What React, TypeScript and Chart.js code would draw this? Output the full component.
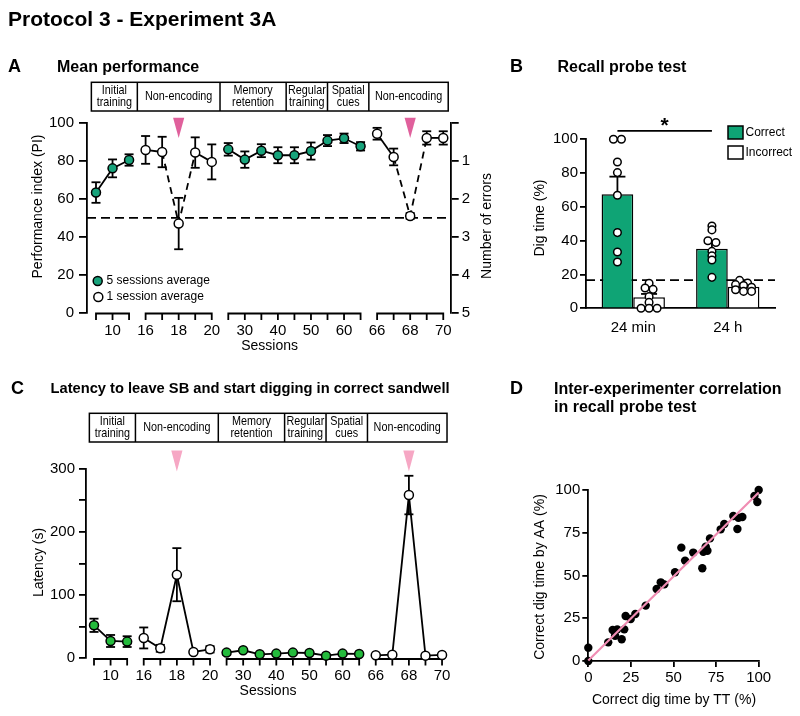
import React, { useEffect, useRef } from 'react';
import { Chart, registerables } from 'chart.js';

Chart.register(...registerables);

const FONT = "'Liberation Sans', Arial, Helvetica, sans-serif";
Chart.defaults.font.family = FONT;
Chart.defaults.color = '#000';

// ---------------- data ----------------
const sessions = [9, 10, 11, 16, 17, 18, 19, 20, 25, 30, 35, 40, 45, 50, 55, 60, 65, 66, 67, 68, 69, 70];
const sessionTickLabels = [10, 16, 18, 20, 30, 40, 50, 60, 66, 68, 70];
const sessionGroups = [
  [9, 10, 11],
  [16, 17, 18, 19, 20],
  [25, 30, 35, 40, 45, 50, 55, 60, 65],
  [66, 67, 68, 69, 70],
];
const groupIsFiveSessionAverage = [true, false, true, false];
const noEncodingSessions = [18, 68];
const phaseNames = [['Initial', 'training'], ['Non-encoding'], ['Memory', 'retention'], ['Regular', 'training'], ['Spatial', 'cues'], ['Non-encoding']];
const phaseBounds = [-0.28, 2.5, 7.5, 11.5, 14, 16.5, 21.3];
const legendLabels = ['5 sessions average', '1 session average'];

const performanceMean = [63.3, 76.0, 80.4, 85.7, 84.6, 47.0, 84.3, 79.4, 86.0, 80.6, 85.3, 82.9, 82.9, 85.1, 90.6, 91.8, 87.6, 94.2, 82.0, 51.0, 92.0, 92.0];
const performanceSem = [5.4, 4.7, 3.0, 7.3, 8.0, 13.5, 8.0, 9.2, 3.3, 4.3, 3.4, 4.2, 4.2, 4.5, 2.9, 2.5, 2.2, 3.1, 4.4, 1.5, 3.5, 3.5];
const performanceChance = 50;

const latencyMean = [52.2, 27.4, 26.4, 32.2, 15.8, 132.3, 10.0, 14.2, 9.0, 12.7, 6.3, 7.4, 9.0, 8.4, 4.2, 7.4, 6.9, 4.7, 5.8, 258.3, 4.2, 5.3];
const latencySem = [10.5, 9.5, 8.5, 16.6, 5.5, 42.0, 2.0, 5.0, 3.0, 2.0, 1.5, 1.5, 1.5, 1.5, 1.0, 1.5, 1.5, 1.0, 1.0, 30.5, 1.0, 1.0];

const probeDelays = ['24 min', '24 h'];
const probeSeries = ['Correct', 'Incorrect'];
const correctMean = [67.5, 35.3];
const correctSem = [10.4, 3.6];
const incorrectMean = [6.5, 12.8];
const incorrectSem = [2.0, 1.0];
const correctIndividual = [
  [100, 100, 86.6, 80.3, 66.9, 44.8, 33.3, 27.4],
  [48.7, 46.4, 40.0, 38.9, 33.7, 31.0, 28.6, 18.3],
];
const incorrectIndividual = [
  [14.8, 12.0, 11.2, 6.9, 3.5, 0, 0, 0],
  [16.5, 15.0, 14.0, 13.5, 12.5, 11.0, 10.0, 10.0],
];
const digChance = 16.7;
const significanceLevel = 105;

const digTimeTT = [0, 0, 11.7, 14.3, 15.7, 17.0, 19.6, 21.1, 21.9, 24.9, 27.6, 33.7, 40.1, 42.5, 44.6, 50.9, 54.6, 56.8, 61.6, 66.9, 67.5, 68.9, 69.9, 71.4, 77.7, 79.8, 85.1, 87.5, 88.1, 90.4, 97.5, 99.2, 100];
const digTimeAA = [0, 7.8, 10.9, 18.1, 14.8, 18.5, 12.7, 18.5, 26.3, 24.6, 27.5, 32.4, 42.1, 46.0, 44.8, 51.9, 66.3, 58.7, 63.4, 54.2, 63.9, 66.9, 64.5, 71.7, 77.0, 80.1, 84.8, 77.2, 83.8, 84.2, 96.5, 93.0, 100];
const fitTT = [0, 100];
const fitAA = [0.3, 98.5];

// ---------------- layout / style ----------------
const W = 800;
const H = 716;
const GREEN_A = '#17a37b';
const GREEN_B = '#0fa475';
const GREEN_C = '#24bb3c';
const PINK_A = '#e0609c';
const PINK_C = '#f6a7c4';
const PINK_D = '#f08db3';
const LW = 1.8;

const GEO_A = { left: 87, right: 450.7, top: 122.7, bottom: 313, xMin: -0.544, xMax: 21.45 };
const DEC_A = { boxTop: 82.3, boxBottom: 111, triTop: 117.7, triBottom: 138, axisY: 313.5, tickLabelY: 331, titleY: 346, yTitleX: 38.5, yTitleY: 206.5, y2TitleX: 487, y2TitleY: 226 };
const GEO_C = { left: 86, right: 450, top: 468.7, bottom: 658.3, xMin: -0.483, xMax: 21.48 };
const DEC_C = { boxTop: 413.3, boxBottom: 442, triTop: 450.5, triBottom: 471.5, axisY: 659, tickLabelY: 675.5, titleY: 690.7, yTitleX: 39.3, yTitleY: 562.5 };
const GEO_B = { left: 586, right: 775, top: 139.3, bottom: 308.3 };
const GEO_D = { left: 588.3, right: 758.7, top: 490, bottom: 661 };

function txt(ctx: any, s: string, x: number, y: number, size: number, o: any = {}) {
  ctx.save();
  ctx.font = `${o.bold ? 'bold ' : ''}${size}px ${FONT}`;
  ctx.fillStyle = o.color || '#000';
  ctx.textAlign = o.align || 'left';
  ctx.textBaseline = o.baseline || 'middle';
  ctx.translate(x, y);
  if (o.rot) ctx.rotate(o.rot);
  if (o.sx) ctx.scale(o.sx, 1);
  ctx.fillText(s, 0, 0);
  ctx.restore();
}

function seg(ctx: any, x0: number, y0: number, x1: number, y1: number) {
  ctx.beginPath();
  ctx.moveTo(x0, y0);
  ctx.lineTo(x1, y1);
  ctx.stroke();
}

function drawErrorBars(ctx: any, xs: any, ys: any, means: number[], sems: number[], capHalf: number) {
  ctx.save();
  ctx.strokeStyle = '#000';
  ctx.lineWidth = LW;
  means.forEach((m, i) => {
    const px = xs.getPixelForValue(i);
    const yTop = ys.getPixelForValue(m + sems[i]);
    const yBot = ys.getPixelForValue(Math.max(m - sems[i], 0));
    seg(ctx, px, yTop, px, yBot);
    seg(ctx, px - capHalf, yTop, px + capHalf, yTop);
    seg(ctx, px - capHalf, yBot, px + capHalf, yBot);
  });
  ctx.restore();
}

function drawSessionAxis(chart: any, d: any) {
  const { ctx } = chart;
  const xs = chart.scales.x;
  ctx.save();
  ctx.strokeStyle = '#000';
  ctx.lineWidth = LW;
  ctx.lineJoin = 'miter';
  const tick = 6.5;
  sessionGroups.forEach((g) => {
    const x0 = xs.getPixelForValue(sessions.indexOf(g[0]));
    const x1 = xs.getPixelForValue(sessions.indexOf(g[g.length - 1]));
    ctx.beginPath();
    ctx.moveTo(x0, d.axisY + tick);
    ctx.lineTo(x0, d.axisY);
    ctx.lineTo(x1, d.axisY);
    ctx.lineTo(x1, d.axisY + tick);
    ctx.stroke();
    g.slice(1, -1).forEach((s) => {
      const px = xs.getPixelForValue(sessions.indexOf(s));
      seg(ctx, px, d.axisY, px, d.axisY + tick);
    });
  });
  ctx.restore();
  sessionTickLabels.forEach((s) => {
    txt(ctx, String(s), xs.getPixelForValue(sessions.indexOf(s)), d.tickLabelY, 15, { align: 'center' });
  });
  const mid = (xs.getPixelForValue(0) + xs.getPixelForValue(sessions.length - 1)) / 2;
  txt(ctx, 'Sessions', mid, d.titleY, 14, { align: 'center' });
}

function drawPhases(chart: any, d: any) {
  const { ctx } = chart;
  const xs = chart.scales.x;
  const px = phaseBounds.map((v) => xs.getPixelForValue(v));
  ctx.save();
  ctx.strokeStyle = '#000';
  ctx.lineWidth = 1.5;
  ctx.strokeRect(px[0], d.boxTop, px[px.length - 1] - px[0], d.boxBottom - d.boxTop);
  for (let k = 1; k < px.length - 1; k++) seg(ctx, px[k], d.boxTop, px[k], d.boxBottom);
  ctx.restore();
  const cy = (d.boxTop + d.boxBottom) / 2;
  phaseNames.forEach((lines, k) => {
    const cx = (px[k] + px[k + 1]) / 2;
    if (lines.length === 2) {
      txt(ctx, lines[0], cx, cy - 6, 13.5, { align: 'center', sx: 0.8 });
      txt(ctx, lines[1], cx, cy + 6, 13.5, { align: 'center', sx: 0.8 });
    } else {
      txt(ctx, lines[0], cx, cy, 13.5, { align: 'center', sx: 0.8 });
    }
  });
}

function drawTriangles(chart: any, d: any, color: string) {
  const { ctx } = chart;
  const xs = chart.scales.x;
  ctx.save();
  ctx.fillStyle = color;
  noEncodingSessions.forEach((s) => {
    const px = xs.getPixelForValue(sessions.indexOf(s));
    ctx.beginPath();
    ctx.moveTo(px - 5.6, d.triTop);
    ctx.lineTo(px + 5.6, d.triTop);
    ctx.lineTo(px, d.triBottom);
    ctx.closePath();
    ctx.fill();
  });
  ctx.restore();
}

function circle(ctx: any, x: number, y: number, r: number, fill: string) {
  ctx.save();
  ctx.beginPath();
  ctx.arc(x, y, r, 0, Math.PI * 2);
  ctx.fillStyle = fill;
  ctx.fill();
  ctx.lineWidth = 1.5;
  ctx.strokeStyle = '#000';
  ctx.stroke();
  ctx.restore();
}

function sessionDatasets(means: number[], green: string, dashed: boolean) {
  return sessionGroups.map((g, gi) => ({
    data: g.map((s) => {
      const i = sessions.indexOf(s);
      return { x: i, y: means[i] };
    }),
    showLine: true,
    borderColor: '#000',
    borderWidth: LW,
    pointRadius: 4.5,
    pointHoverRadius: 4.5,
    pointBorderWidth: 1.5,
    pointBorderColor: '#000',
    pointBackgroundColor: groupIsFiveSessionAverage[gi] ? green : '#fff',
    clip: false,
    segment: {
      borderDash: (c: any) =>
        dashed && (noEncodingSessions.includes(g[c.p0DataIndex]) || noEncodingSessions.includes(g[c.p1DataIndex]))
          ? [7, 5]
          : undefined,
    },
  }));
}

function yAxis(min: number, max: number, step: number, width: number, tickLength: number, padding: number, extra: any = {}) {
  return {
    type: 'linear',
    position: 'left',
    min,
    max,
    afterFit: (s: any) => {
      s.width = width;
    },
    ticks: { stepSize: step, autoSkip: false, font: { family: FONT, size: 15 }, color: '#000', padding, ...(extra.ticks || {}) },
    grid: { display: true, drawOnChartArea: false, drawTicks: true, tickLength, color: '#000', lineWidth: LW },
    border: { display: true, color: '#000', width: LW },
    ...(extra.rest || {}),
  };
}

const baseOptions = {
  responsive: false,
  maintainAspectRatio: false,
  animation: false,
  events: [],
  plugins: { legend: { display: false }, tooltip: { enabled: false }, title: { display: false } },
};

function buildPerformanceChart() {
  const plugin = {
    id: 'perfDecor',
    beforeDatasetsDraw(chart: any) {
      const { ctx, chartArea } = chart;
      const { x, y } = chart.scales;
      ctx.save();
      ctx.setLineDash([9, 5]);
      ctx.lineWidth = LW;
      ctx.strokeStyle = '#000';
      const yy = y.getPixelForValue(performanceChance);
      seg(ctx, chartArea.left, yy, chartArea.right, yy);
      ctx.restore();
      drawSessionAxis(chart, DEC_A);
      drawErrorBars(ctx, x, y, performanceMean, performanceSem, 4.5);
    },
    afterDraw(chart: any) {
      const { ctx } = chart;
      drawPhases(chart, DEC_A);
      drawTriangles(chart, DEC_A, PINK_A);
      circle(ctx, 97.7, 281, 4.5, GREEN_A);
      txt(ctx, legendLabels[0], 106.5, 281, 12);
      circle(ctx, 98.3, 297, 4.5, '#fff');
      txt(ctx, legendLabels[1], 106.5, 297, 12);
      txt(ctx, 'Performance index (PI)', DEC_A.yTitleX, DEC_A.yTitleY, 14, { align: 'center', rot: -Math.PI / 2 });
      txt(ctx, 'Number of errors', DEC_A.y2TitleX, DEC_A.y2TitleY, 14, { align: 'center', rot: -Math.PI / 2 });
    },
  };
  return {
    type: 'scatter',
    data: { datasets: sessionDatasets(performanceMean, GREEN_A, true) },
    options: {
      ...baseOptions,
      layout: { padding: { left: 0, right: W - GEO_A.right - 40, top: GEO_A.top, bottom: H - GEO_A.bottom } },
      scales: {
        x: { type: 'linear', display: false, min: GEO_A.xMin, max: GEO_A.xMax },
        y: yAxis(0, 100, 20, GEO_A.left, 8, 5),
        y2: {
          type: 'linear',
          position: 'right',
          min: 0,
          max: 5,
          reverse: true,
          afterFit: (s: any) => {
            s.width = 40;
          },
          ticks: {
            stepSize: 1,
            autoSkip: false,
            font: { family: FONT, size: 15 },
            color: '#000',
            padding: 3,
            callback: (v: any) => (v === 0 ? '' : String(v)),
          },
          grid: { display: true, drawOnChartArea: false, drawTicks: true, tickLength: 8, color: '#000', lineWidth: LW },
          border: { display: true, color: '#000', width: LW },
        },
      },
    },
    plugins: [plugin],
  };
}

function buildLatencyChart() {
  const plugin = {
    id: 'latDecor',
    beforeDatasetsDraw(chart: any) {
      const { ctx } = chart;
      const { x, y } = chart.scales;
      drawSessionAxis(chart, DEC_C);
      drawErrorBars(ctx, x, y, latencyMean, latencySem, 4.5);
    },
    afterDraw(chart: any) {
      const { ctx } = chart;
      drawPhases(chart, DEC_C);
      drawTriangles(chart, DEC_C, PINK_C);
      txt(ctx, 'Latency (s)', DEC_C.yTitleX, DEC_C.yTitleY, 14, { align: 'center', rot: -Math.PI / 2 });
    },
  };
  return {
    type: 'scatter',
    data: { datasets: sessionDatasets(latencyMean, GREEN_C, false) },
    options: {
      ...baseOptions,
      layout: { padding: { left: 0, right: W - GEO_C.right, top: GEO_C.top, bottom: H - GEO_C.bottom } },
      scales: {
        x: { type: 'linear', display: false, min: GEO_C.xMin, max: GEO_C.xMax },
        y: yAxis(0, 300, 50, GEO_C.left, 7, 4, {
          ticks: { callback: (v: any) => (v % 100 === 0 ? String(v) : '') },
        }),
      },
    },
    plugins: [plugin],
  };
}

function swarm(values: number[], ys: any, threshold: number, step: number) {
  const sorted = values.map((v) => ys.getPixelForValue(v)).sort((a, b) => a - b);
  const out: { py: number; dx: number }[] = [];
  let i = 0;
  while (i < sorted.length) {
    let j = i;
    while (j + 1 < sorted.length && sorted[j + 1] - sorted[i] < threshold) j++;
    const n = j - i + 1;
    for (let k = 0; k < n; k++) out.push({ py: sorted[i + k], dx: (k - (n - 1) / 2) * step });
    i = j + 1;
  }
  return out;
}

function buildProbeChart() {
  const plugin = {
    id: 'probeDecor',
    beforeDatasetsDraw(chart: any) {
      const { ctx, chartArea } = chart;
      const y = chart.scales.y;
      ctx.save();
      ctx.setLineDash([9, 5]);
      ctx.lineWidth = LW;
      ctx.strokeStyle = '#000';
      const yy = y.getPixelForValue(digChance);
      seg(ctx, chartArea.left, yy, chartArea.right, yy);
      ctx.restore();
    },
    afterDatasetsDraw(chart: any) {
      const { ctx } = chart;
      const ys = chart.scales.y;
      const groups: any[] = [
        [correctMean, correctSem, correctIndividual],
        [incorrectMean, incorrectSem, incorrectIndividual],
      ];
      ctx.save();
      ctx.strokeStyle = '#000';
      ctx.lineWidth = LW;
      groups.forEach(([m, s], di) => {
        const meta = chart.getDatasetMeta(di);
        meta.data.forEach((bar: any, j: number) => {
          const yTop = ys.getPixelForValue(m[j] + s[j]);
          const yBar = ys.getPixelForValue(m[j]);
          seg(ctx, bar.x, yBar, bar.x, yTop);
          seg(ctx, bar.x - 8, yTop, bar.x + 8, yTop);
        });
      });
      ctx.restore();
      groups.forEach(([, , pts], di) => {
        const meta = chart.getDatasetMeta(di);
        meta.data.forEach((bar: any, j: number) => {
          swarm(pts[j], ys, 2.6, 8).forEach((p) => circle(ctx, bar.x + p.dx, p.py, 3.8, '#fff'));
        });
      });
    },
    afterDraw(chart: any) {
      const { ctx } = chart;
      const ys = chart.scales.y;
      const m0 = chart.getDatasetMeta(0);
      const x0 = m0.data[0].x;
      const x1 = m0.data[1].x;
      const yS = ys.getPixelForValue(significanceLevel);
      ctx.save();
      ctx.strokeStyle = '#000';
      ctx.lineWidth = LW;
      seg(ctx, x0, yS, x1, yS);
      ctx.restore();
      txt(ctx, '*', (x0 + x1) / 2, yS + 1, 21, { align: 'center', baseline: 'alphabetic', bold: true });
      // legend
      ctx.save();
      ctx.lineWidth = 1.5;
      ctx.strokeStyle = '#000';
      ctx.fillStyle = GREEN_B;
      ctx.fillRect(728, 126, 15, 13);
      ctx.strokeRect(728, 126, 15, 13);
      ctx.fillStyle = '#fff';
      ctx.fillRect(728, 146, 15, 13);
      ctx.strokeRect(728, 146, 15, 13);
      ctx.restore();
      txt(ctx, probeSeries[0], 745.5, 132.6, 12);
      txt(ctx, probeSeries[1], 745.5, 152.4, 12);
      txt(ctx, 'Dig time (%)', 540, 218, 14, { align: 'center', rot: -Math.PI / 2 });
    },
  };
  return {
    type: 'bar',
    data: {
      labels: probeDelays,
      datasets: [
        { label: probeSeries[0], data: correctMean, backgroundColor: GREEN_B, borderColor: '#000', borderWidth: 1.5, categoryPercentage: 0.67, barPercentage: 1 },
        { label: probeSeries[1], data: incorrectMean, backgroundColor: '#fff', borderColor: '#000', borderWidth: 1.5, categoryPercentage: 0.67, barPercentage: 1 },
      ],
    },
    options: {
      ...baseOptions,
      layout: { padding: { left: GEO_B.left - 60, right: W - GEO_B.right, top: GEO_B.top, bottom: H - GEO_B.bottom - 40 } },
      scales: {
        x: {
          afterFit: (s: any) => {
            s.height = 40;
          },
          grid: { display: false },
          border: { display: true, color: '#000', width: LW },
          ticks: { font: { family: FONT, size: 15 }, color: '#000', padding: 3 },
        },
        y: yAxis(0, 100, 20, 60, 6, 2),
      },
    },
    plugins: [plugin],
  };
}

function buildCorrelationChart() {
  const plugin = {
    id: 'corrDecor',
    afterDraw(chart: any) {
      const { ctx } = chart;
      txt(ctx, 'Correct dig time by AA (%)', 540, 577, 14, { align: 'center', rot: -Math.PI / 2 });
      txt(ctx, 'Correct dig time by TT (%)', 674, 700, 14, { align: 'center' });
    },
  };
  return {
    type: 'scatter',
    data: {
      datasets: [
        {
          data: fitTT.map((v, i) => ({ x: v, y: fitAA[i] })),
          showLine: true,
          borderColor: PINK_D,
          borderWidth: 2.2,
          pointRadius: 0,
          clip: false,
        },
        {
          data: digTimeTT.map((v, i) => ({ x: v, y: digTimeAA[i] })),
          pointRadius: 4.2,
          pointHoverRadius: 4.2,
          pointBackgroundColor: '#000',
          pointBorderWidth: 0,
          clip: false,
        },
      ],
    },
    options: {
      ...baseOptions,
      layout: { padding: { left: GEO_D.left - 60, right: W - GEO_D.right, top: GEO_D.top, bottom: H - GEO_D.bottom - 40 } },
      scales: {
        x: {
          type: 'linear',
          min: 0,
          max: 100,
          afterFit: (s: any) => {
            s.height = 40;
          },
          ticks: { stepSize: 25, autoSkip: false, font: { family: FONT, size: 15 }, color: '#000', padding: 2 },
          grid: { display: true, drawOnChartArea: false, drawTicks: true, tickLength: 6, color: '#000', lineWidth: LW },
          border: { display: true, color: '#000', width: LW },
        },
        y: yAxis(0, 100, 25, 60, 6, 2),
      },
    },
    plugins: [plugin],
  };
}

function Title({ x, cy, size, children }: any) {
  const lh = Math.round(size * 1.2);
  return (
    <div
      style={{
        position: 'absolute',
        left: x,
        top: cy - lh / 2,
        height: lh,
        lineHeight: `${lh}px`,
        fontSize: size,
        fontWeight: 700,
        fontFamily: FONT,
        whiteSpace: 'nowrap',
        color: '#000',
      }}
    >
      {children}
    </div>
  );
}

export default function App() {
  const a = useRef<HTMLCanvasElement>(null);
  const b = useRef<HTMLCanvasElement>(null);
  const c = useRef<HTMLCanvasElement>(null);
  const d = useRef<HTMLCanvasElement>(null);

  useEffect(() => {
    const charts = [
      new Chart(a.current as any, buildPerformanceChart() as any),
      new Chart(b.current as any, buildProbeChart() as any),
      new Chart(c.current as any, buildLatencyChart() as any),
      new Chart(d.current as any, buildCorrelationChart() as any),
    ];
    return () => charts.forEach((ch) => ch.destroy());
  }, []);

  const canvasStyle: any = { position: 'absolute', left: 0, top: 0, width: W, height: H };

  return (
    <div style={{ position: 'absolute', left: 0, top: 0, width: W, height: H, background: '#fff', overflow: 'hidden' }}>
      <canvas ref={a} width={W} height={H} style={canvasStyle} />
      <canvas ref={b} width={W} height={H} style={canvasStyle} />
      <canvas ref={c} width={W} height={H} style={canvasStyle} />
      <canvas ref={d} width={W} height={H} style={canvasStyle} />
      <Title x={8} cy={18} size={21}>Protocol 3 - Experiment 3A</Title>
      <Title x={8} cy={66} size={18}>A</Title>
      <Title x={57} cy={66} size={16}>Mean performance</Title>
      <Title x={510} cy={66} size={18}>B</Title>
      <Title x={557.5} cy={66} size={16}>Recall probe test</Title>
      <Title x={11} cy={388} size={18}>C</Title>
      <Title x={50.5} cy={388} size={14.7}>Latency to leave SB and start digging in correct sandwell</Title>
      <Title x={510} cy={388} size={18}>D</Title>
      <Title x={554} cy={388} size={16}>Inter-experimenter correlation</Title>
      <Title x={554} cy={406.7} size={16}>in recall probe test</Title>
    </div>
  );
}
